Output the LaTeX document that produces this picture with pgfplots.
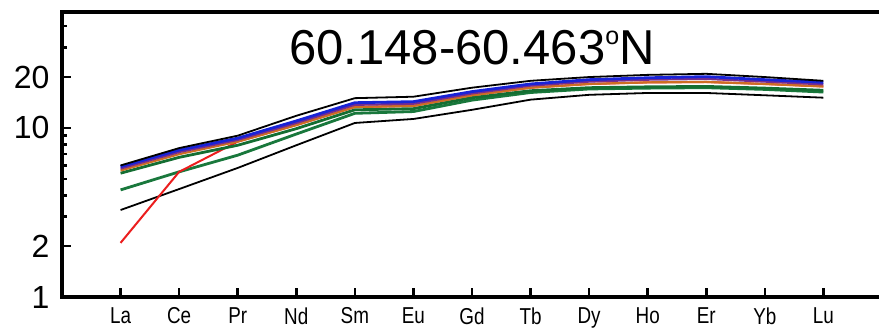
\documentclass[border=0pt]{standalone}
\usepackage{fontspec}
\setmainfont{Liberation Sans}
\newfontfamily\narrowsans[FakeStretch=0.82]{Liberation Sans}
\usepackage{pgfplots}
\pgfplotsset{compat=1.18}

\definecolor{reeblue}{RGB}{25,35,215}
\definecolor{reepurple}{RGB}{120,45,140}
\definecolor{reeorange}{RGB}{205,110,35}
\definecolor{reegreen}{RGB}{20,110,50}
\definecolor{reegreenb}{RGB}{25,120,60}
\definecolor{reered}{RGB}{235,30,30}

% chondrite-normalised REE patterns, one row per element (La ... Lu)
\pgfplotstableread{
x  blackU blue purple orange green greenL blackL red
0  6.0    5.9  5.75   5.6    5.4   4.3    3.27   2.09
1  7.6    7.4  7.2    7.0    6.7   5.5    4.35   5.5
2  9.0    8.7  8.5    8.3    7.9   6.9    5.8    8.3
3  11.8   11.0 10.7   10.4   9.9   9.2    7.9    10.4
4  15.0   14.1 13.7   13.3   12.8  12.2   10.7   13.3
5  15.3   14.3 13.9   13.5   13.0  12.5   11.3   13.5
6  17.3   16.4 16.0   15.6   15.1  14.6   12.8   15.6
7  19.0   18.2 17.8   17.3   16.6  16.2   14.7   17.3
8  20.0   19.3 18.8   18.2   17.3  17.0   15.7   18.2
9  20.6   19.8 19.3   18.6   17.5  17.2   16.1   18.6
10 20.9   20.1 19.5   18.7   17.6  17.3   16.1   18.7
11 20.0   19.3 18.8   18.2   17.2  16.9   15.6   18.2
12 19.0   18.6 18.1   17.6   16.7  16.3   15.1   17.6
}\reedata

\begin{document}
\begin{tikzpicture}
\begin{axis}[
  scale only axis, width=820pt, height=285pt,
  xmin=-1, xmax=13,
  ymode=log, ymin=1, ymax=48.5,
  xtick={0,...,12},
  xticklabels={La,Ce,Pr,Nd,Sm,Eu,Gd,Tb,Dy,Ho,Er,Yb,Lu},
  ytick={1,2,10,20}, yticklabels={1,2,10,20},
  minor ytick={3,4,5,6,7,8,9,30,40},
  tick align=inside, xtick pos=bottom, ytick pos=left,
  major tick length=9pt, minor tick length=5.5pt,
  every tick/.style={black, line width=2.6pt},
  axis line style={line width=3.5pt},
  xticklabel style={font=\narrowsans\fontsize{23}{23}\selectfont, yshift=-7pt},
  yticklabel style={font=\fontsize{32}{32}\selectfont, xshift=-9pt},
  clip=false,
]
\addplot[black, line width=1.8pt] table[x=x, y=blackL] {\reedata};
\addplot[reegreenb, line width=2.8pt] table[x=x, y=greenL] {\reedata};
\addplot[reered, line width=2pt] table[x=x, y=red] {\reedata};
\addplot[reegreen, line width=2.8pt] table[x=x, y=green] {\reedata};
\addplot[reeorange, line width=2.2pt] table[x=x, y=orange] {\reedata};
\addplot[reepurple, line width=2.2pt] table[x=x, y=purple] {\reedata};
\addplot[reeblue, line width=2.8pt] table[x=x, y=blue] {\reedata};
\addplot[black, line width=1.8pt] table[x=x, y=blackU] {\reedata};
\node[font=\fontsize{49}{49}\selectfont, anchor=base] at (axis cs:6,23.6)
  {60.148-60.463\raisebox{20pt}{\fontsize{25}{25}\selectfont o}N};
\end{axis}
\pgfresetboundingbox
\useasboundingbox (-62pt,-36pt) rectangle (817pt,297pt);
\end{tikzpicture}
\end{document}
